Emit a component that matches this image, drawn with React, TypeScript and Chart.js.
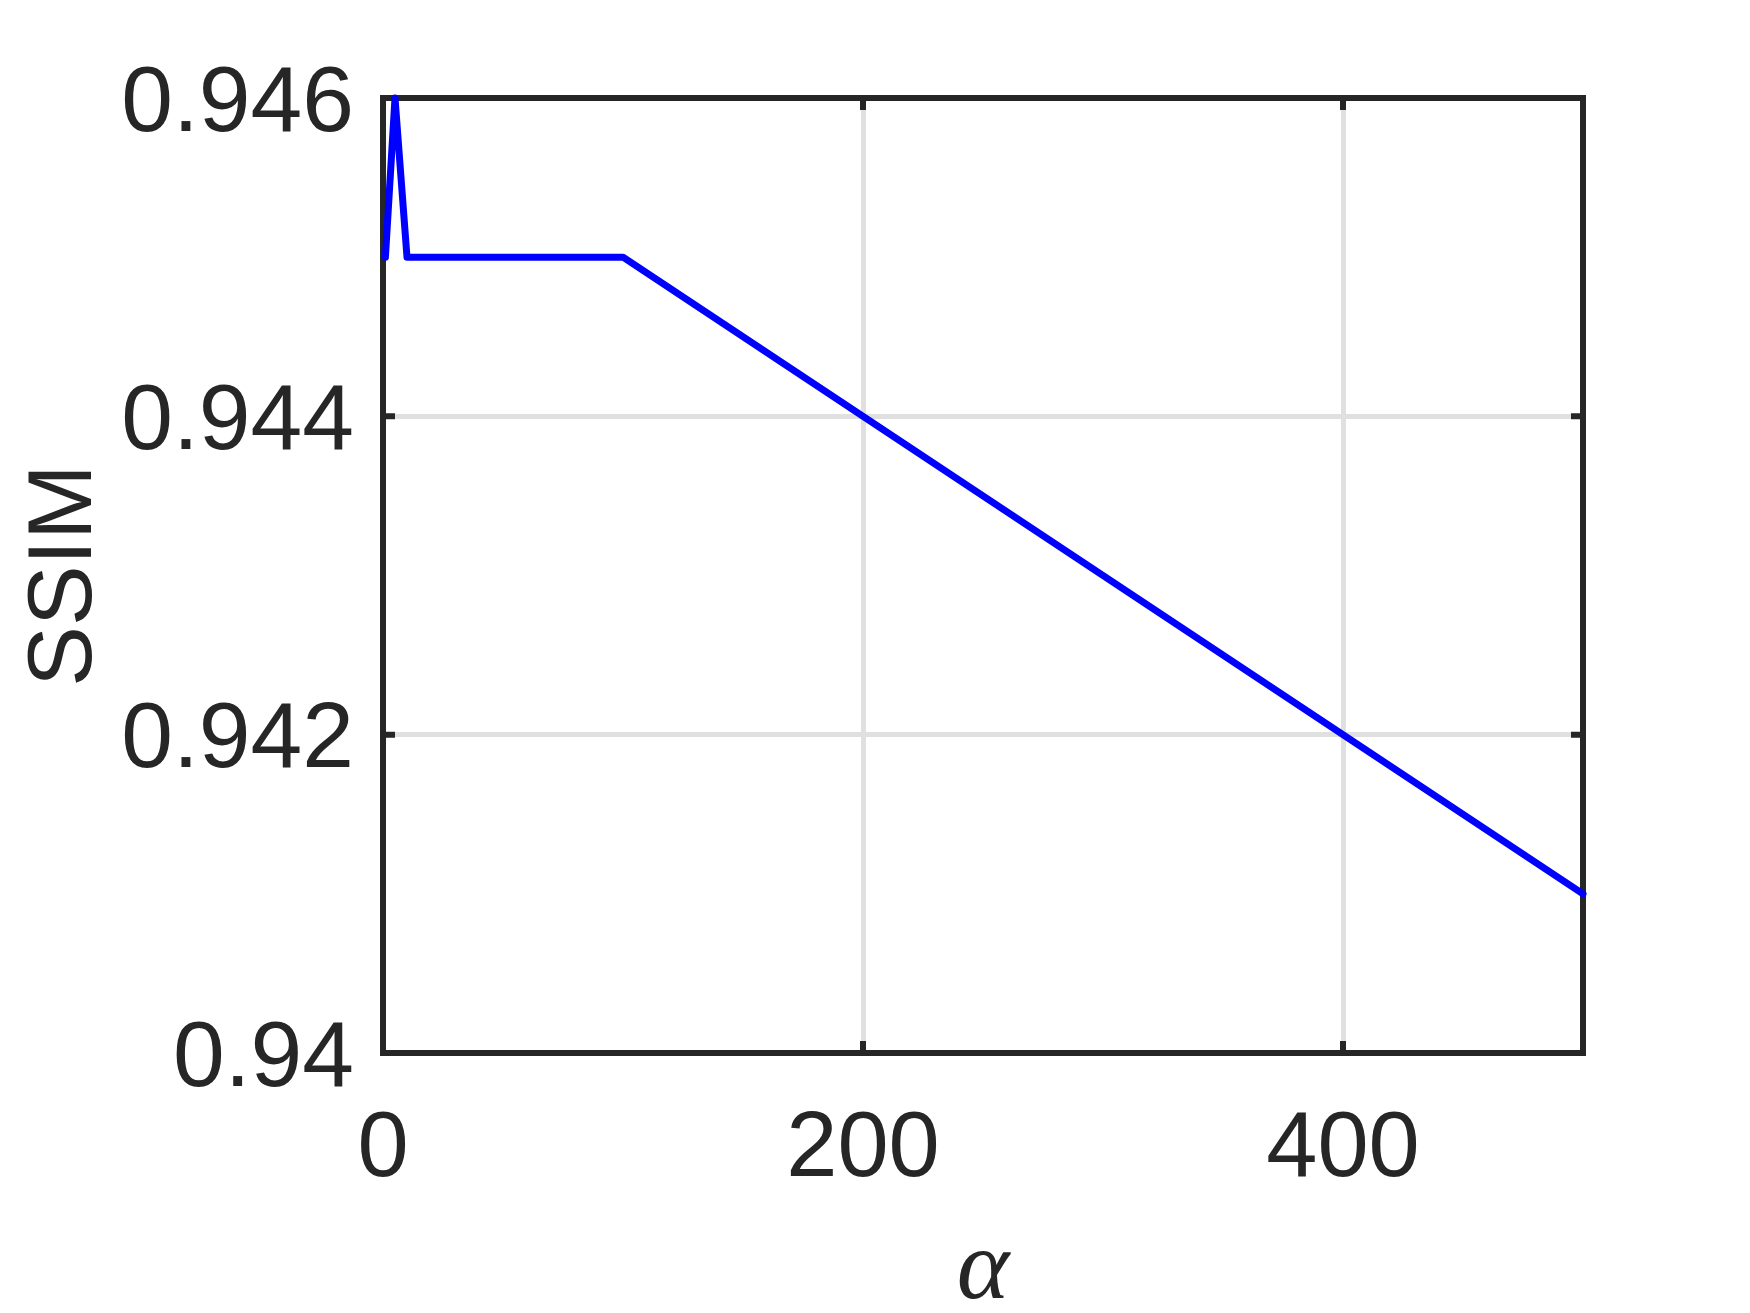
import React, { useEffect, useRef } from "react";
import { Chart, registerables } from "chart.js";

Chart.register(...registerables);

const alphaValues = [1, 5, 10, 100, 500];
const ssimValues = [0.945, 0.946, 0.945, 0.945, 0.941];
const xTickValues = [0, 200, 400];
const yTickValues = [0.94, 0.942, 0.944, 0.946];

const W = 1750;
const H = 1313;
const TEXT = "#262626";
const SANS = "'Liberation Sans', Arial, Helvetica, sans-serif";

const boxPlugin = {
  id: "matlabBox",
  beforeDatasetsDraw(chart: any) {
    const { ctx, chartArea } = chart;
    const { left, right, top, bottom } = chartArea;
    ctx.save();
    ctx.strokeStyle = TEXT;
    ctx.lineWidth = 6;
    ctx.lineCap = "butt";
    const tl = 12;
    const xs = chart.scales.x;
    const ys = chart.scales.y;
    ctx.beginPath();
    for (const t of xs.ticks) {
      const px = xs.getPixelForValue(t.value);
      ctx.moveTo(px, bottom);
      ctx.lineTo(px, bottom - tl);
      ctx.moveTo(px, top);
      ctx.lineTo(px, top + tl);
    }
    for (const t of ys.ticks) {
      const py = ys.getPixelForValue(t.value);
      ctx.moveTo(left, py);
      ctx.lineTo(left + tl, py);
      ctx.moveTo(right, py);
      ctx.lineTo(right - tl, py);
    }
    ctx.stroke();
    ctx.lineJoin = "miter";
    ctx.strokeRect(left, top, right - left, bottom - top);
    ctx.restore();
  },
};

export default function App() {
  const ref = useRef<HTMLCanvasElement | null>(null);
  useEffect(() => {
    if (!ref.current) return;
    const chart = new Chart(ref.current, {
      type: "line",
      data: {
        datasets: [
          {
            data: alphaValues.map((a, i) => ({ x: a, y: ssimValues[i] })),
            borderColor: "#0000ff",
            borderWidth: 7,
            borderJoinStyle: "round",
            borderCapStyle: "round",
            pointRadius: 0,
            tension: 0,
            fill: false,
            clip: false as any,
          },
        ],
      },
      options: {
        responsive: false,
        animation: false,
        events: [],
        layout: { padding: { top: 98, right: 167, left: 0, bottom: 0 } },
        plugins: { legend: { display: false }, tooltip: { enabled: false } },
        scales: {
          x: {
            type: "linear",
            min: 0,
            max: 500,
            afterBuildTicks: (s: any) => {
              s.ticks = xTickValues.map((v) => ({ value: v }));
            },
            afterFit: (s: any) => {
              s.height = H - 1053;
            },
            grid: { color: "#e0e0e0", lineWidth: 5, drawTicks: false },
            border: { display: false },
            ticks: {
              font: { family: SANS, size: 92 },
              color: TEXT,
              padding: 42,
              maxRotation: 0,
              autoSkip: false,
              callback: (v: any) => String(v),
            },
            title: {
              display: true,
              text: "α",
              color: TEXT,
              font: { family: "'Liberation Serif', 'DejaVu Serif', serif", style: "italic", size: 100, lineHeight: 1 },
              padding: { top: 0, bottom: -9 },
            },
          },
          y: {
            type: "linear",
            min: 0.94,
            max: 0.946,
            afterBuildTicks: (s: any) => {
              s.ticks = yTickValues.map((v) => ({ value: v }));
            },
            afterFit: (s: any) => {
              s.width = 383;
            },
            grid: { color: "#e0e0e0", lineWidth: 5, drawTicks: false },
            border: { display: false },
            ticks: {
              font: { family: SANS, size: 93, lineHeight: "14px" },
              color: TEXT,
              padding: 29,
              autoSkip: false,
              callback: (v: any) => ["", String(Number(Number(v).toFixed(3)))],
            },
            title: {
              display: true,
              text: "SSIM",
              color: TEXT,
              font: { family: SANS, size: 91, lineHeight: 1 },
              padding: { top: 20, bottom: 0 },
            },
          },
        },
      },
      plugins: [boxPlugin],
    });
    return () => chart.destroy();
  }, []);
  return (
    <div style={{ position: "fixed", left: 0, top: 0, width: W, height: H, background: "#fff" }}>
      <canvas ref={ref} width={W} height={H} style={{ display: "block", width: W, height: H }} />
    </div>
  );
}
